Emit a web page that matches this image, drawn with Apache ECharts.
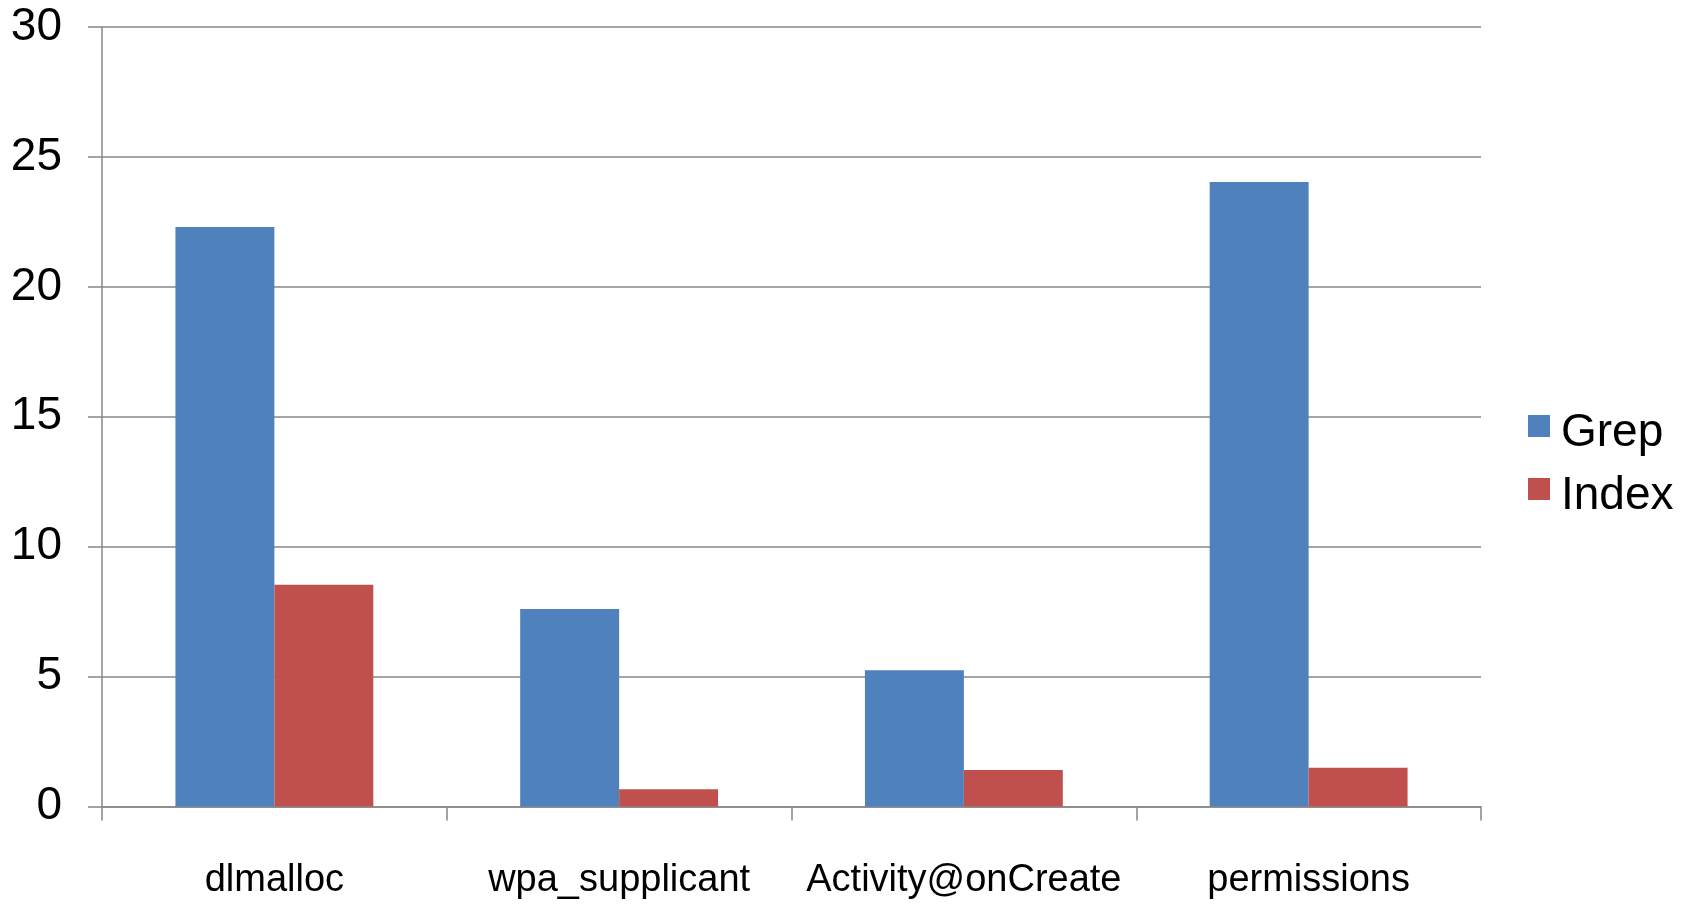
<!DOCTYPE html>
<html>
<head>
<meta charset="utf-8">
<script src="https://cdn.jsdelivr.net/npm/echarts@6/dist/echarts.min.js"></script>
<style>
html,body{margin:0;padding:0;background:#fff;}
#chart{width:1698px;height:904px;}
</style>
</head>
<body>
<div id="chart"></div>
<script>
const categories = ['dlmalloc', 'wpa_supplicant', 'Activity@onCreate', 'permissions'];
const grepValues = [22.3, 7.6, 5.24, 24.03];
const indexValues = [8.53, 0.66, 1.4, 1.49];
const seriesNames = ['Grep', 'Index'];
const yTicks = { min: 0, max: 30, interval: 5 };

const chart = echarts.init(document.getElementById('chart'));
const axisGray = '#878787';
chart.setOption({
  animation: false,
  backgroundColor: '#ffffff',
  grid: { left: 102, right: 217, top: 27, bottom: 97.5, containLabel: false },
  legend: {
    orient: 'vertical',
    left: 1528,
    top: 395.5,
    padding: 0,
    itemWidth: 22,
    itemHeight: 22,
    itemGap: 2,
    icon: 'rect',
    data: seriesNames,
    formatter: '{t|{name}}',
    textStyle: {
      fontFamily: 'Liberation Sans', fontSize: 46, color: '#000', padding: [0, 0, 0, 6],
      rich: { t: { fontFamily: 'Liberation Sans', fontSize: 46, color: '#000', lineHeight: 46, padding: [15, 0, 0, 0] } }
    }
  },
  xAxis: {
    type: 'category',
    data: categories,
    axisLine: { lineStyle: { color: axisGray, width: 1.5 } },
    axisTick: { show: true, interval: 0, length: 14, lineStyle: { color: axisGray, width: 1.5 } },
    axisLabel: { interval: 0, fontFamily: 'Liberation Sans', fontSize: 38, color: '#000', margin: 55 },
    splitLine: { show: false }
  },
  yAxis: {
    type: 'value',
    min: yTicks.min, max: yTicks.max, interval: yTicks.interval,
    axisLine: { show: true, lineStyle: { color: axisGray, width: 1.5 } },
    axisTick: { show: true, length: 14, lineStyle: { color: axisGray, width: 1.5 } },
    axisLabel: { fontFamily: 'Liberation Sans', fontSize: 46, color: '#000', margin: 40 },
    splitLine: { show: true, lineStyle: { color: axisGray, width: 1.5 } }
  },
  series: [
    { name: seriesNames[0], type: 'bar', data: grepValues, barGap: '0%', barCategoryGap: '42.6%', itemStyle: { color: '#4F81BD' } },
    { name: seriesNames[1], type: 'bar', data: indexValues, barGap: '0%', barCategoryGap: '42.6%', itemStyle: { color: '#C0504D' } }
  ]
});
</script>
</body>
</html>
